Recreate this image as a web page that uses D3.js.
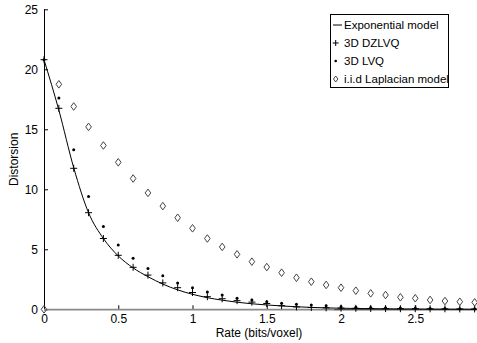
<!DOCTYPE html>
<html><head><meta charset="utf-8">
<script src="https://cdn.jsdelivr.net/npm/d3@7"></script>
<style>body{margin:0;background:#fff}svg{display:block}text{font-family:Arial,"Liberation Sans",sans-serif}</style>
</head><body><div id="chart"></div>
<script>
const rates = [0,0.1,0.2,0.3,0.4,0.5,0.6,0.7,0.8,0.9,1.0,1.1,1.2,1.3,1.4,1.5,1.6,1.7,1.8,1.9,2.0,2.1,2.2,2.3,2.4,2.5,2.6,2.7,2.8,2.9];
const expModel = [20.8,16.6,11.8,8.05,5.9,4.45,3.45,2.72,2.1,1.62,1.25,0.97,0.76,0.59,0.46,0.36,0.28,0.21,0.16,0.12,0.09,0.07,0.055,0.045,0.035,0.028,0.022,0.018,0.015,0.012];
const dzlvq = [20.8,16.75,11.75,8.05,5.9,4.5,3.5,2.85,2.2,1.8,1.4,1.05,0.88,0.72,0.6,0.48,0.3,0.2,0.15,0.12,0.1,0.08,0.07,0.06,0.05,0.05,0.04,0.04,0.03,0.03];
const lvq = [20.8,17.6,13.3,9.4,6.9,5.35,4.25,3.4,2.8,2.2,1.8,1.45,1.19,0.92,0.78,0.63,0.5,0.42,0.36,0.3,0.22,0.18,0.15,0.12,0.1,0.09,0.07,0.06,0.05,0.04];
const laplacian = [0,18.75,16.9,15.2,13.65,12.25,10.9,9.7,8.6,7.63,6.75,5.9,5.2,4.58,3.97,3.52,3.05,2.63,2.3,2.03,1.8,1.55,1.33,1.19,1.0,0.92,0.78,0.69,0.63,0.58];
const xTicks = [0,0.5,1,1.5,2,2.5];
const yTicks = [0,5,10,15,20,25];
const legendLabels = ["Exponential model","3D DZLVQ","3D LVQ","i.i.d Laplacian model"];

const W = 477, H = 343;
const FONT = "Arial, 'Liberation Sans', sans-serif";
const svg = d3.select("#chart").append("svg").attr("width", W).attr("height", H);
const x = d3.scaleLinear().domain([0,3]).range([44, 44 + 3*148.5]);
const y = d3.scaleLinear().domain([0,25]).range([309.3, 9.3]);

// axes
const xAxis = svg.append("g").attr("transform", `translate(0,${y(0)})`)
  .call(d3.axisBottom(x).tickValues(xTicks).tickSize(-4).tickPadding(5).tickFormat(d3.format("")));
const yAxis = svg.append("g").attr("transform", `translate(${x(0)},0)`)
  .call(d3.axisLeft(y).tickValues(yTicks).tickSize(-4).tickPadding(6));
[xAxis, yAxis].forEach(g => {
  g.select(".domain").attr("stroke", "#000").attr("stroke-width", 1);
  g.selectAll(".tick line").attr("stroke", "#000");
  g.selectAll(".tick text").attr("font-size", 12).attr("fill", "#000").attr("font-family", FONT);
});
xAxis.select(".domain").attr("d", `M${x(1.95)},0.5H${W}`);
yAxis.select(".domain").attr("d", `M0.5,${y(25)}V${y(0)}`);
// gray part of the x axis line (overlapping markers)
svg.append("line").attr("x1", x(0)).attr("x2", x(1.95)).attr("y1", y(0)+0.3).attr("y2", y(0)+0.3)
  .attr("stroke", "#8a8a8a").attr("stroke-width", 1.6);

// axis labels
svg.append("text").attr("x", 259).attr("y", 337).attr("text-anchor", "middle").attr("font-size", 12).text("Rate (bits/voxel)");
svg.append("text").attr("transform", `translate(18,${y(12.5)}) rotate(-90)`).attr("text-anchor", "middle").attr("font-size", 12).text("Distorsion");

// exponential line
const line = d3.line().x((d,i) => x(rates[i])).y(d => y(d)).curve(d3.curveMonotoneX);
svg.append("path").attr("d", line(expModel)).attr("fill", "none").attr("stroke", "#000").attr("stroke-width", 1);

// DZLVQ plus
svg.append("g").selectAll("path").data(dzlvq).join("path")
  .attr("transform", (d,i) => `translate(${x(rates[i])},${y(d)})`)
  .attr("d", "M-3.5,0H3.5M0,-3.5V3.5").attr("stroke", "#000").attr("stroke-width", 1).attr("fill", "none");
// LVQ dots
svg.append("g").selectAll("circle").data(lvq).join("circle")
  .attr("cx", (d,i) => x(rates[i])).attr("cy", d => y(d)).attr("r", 1.5).attr("fill", "#000");
// Laplacian diamonds
svg.append("g").selectAll("path").data(laplacian).join("path")
  .attr("transform", (d,i) => `translate(${x(rates[i])},${y(d)})`)
  .attr("d", "M0,-3.8L2.8,0L0,3.8L-2.8,0Z").attr("stroke", "#444").attr("stroke-width", 1).attr("fill", "none");

// legend
const lg = svg.append("g");
lg.append("rect").attr("x", 330.5).attr("y", 14.5).attr("width", 118).attr("height", 73).attr("fill", "#fff").attr("stroke", "#000");
const ly = [25, 43, 61, 79];
legendLabels.forEach((t,i) => {
  lg.append("text").attr("x", 344).attr("y", ly[i]+4).attr("font-size", 11.5).text(t);
});
lg.append("line").attr("x1", 333).attr("x2", 342).attr("y1", ly[0]).attr("y2", ly[0]).attr("stroke", "#000");
lg.append("path").attr("transform", `translate(335.7,${ly[1]})`).attr("d", "M-3,0H3M0,-3V3").attr("stroke", "#000");
lg.append("circle").attr("cx", 335.7).attr("cy", ly[2]).attr("r", 1.3).attr("fill", "#000");
lg.append("path").attr("transform", `translate(335.7,${ly[3]})`).attr("d", "M0,-3L2.2,0L0,3L-2.2,0Z").attr("stroke", "#444").attr("fill", "none");
</script></body></html>
